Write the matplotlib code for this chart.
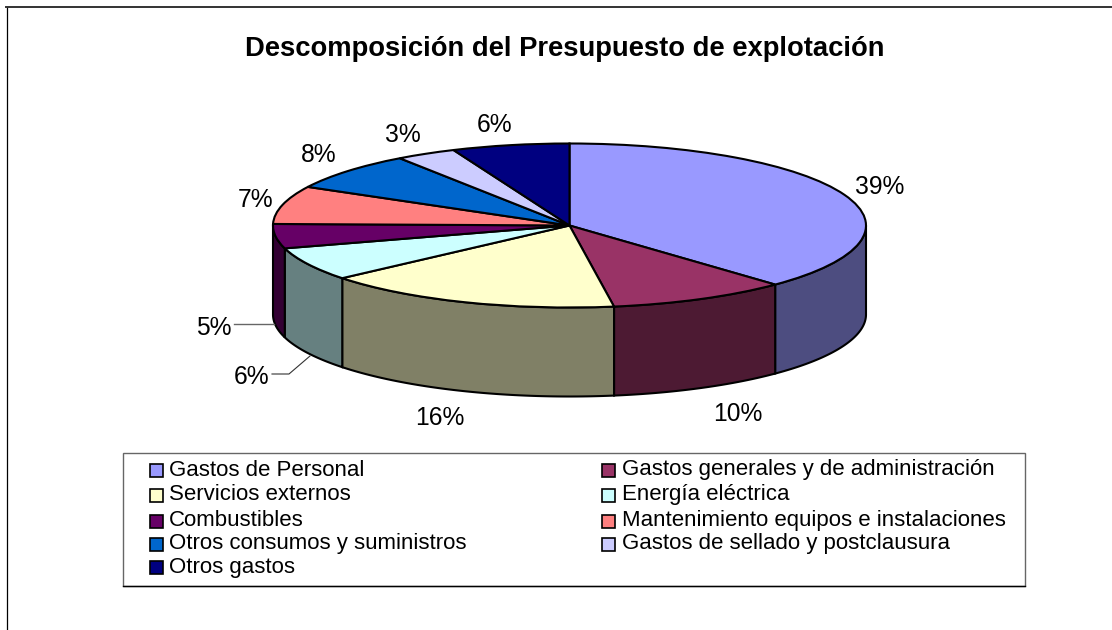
#!/usr/bin/env python
import numpy as np
import matplotlib

matplotlib.use('Agg')
import matplotlib.pyplot as plt
from matplotlib.colors import to_rgb
from matplotlib.patches import Rectangle

plt.rcParams['font.family'] = ['Liberation Sans', 'DejaVu Sans']

# data
title = 'Descomposición del Presupuesto de explotación'
categories = ['Gastos de Personal', 'Gastos generales y de administración',
              'Servicios externos', 'Energía eléctrica', 'Combustibles',
              'Mantenimiento equipos e instalaciones',
              'Otros consumos y suministros', 'Gastos de sellado y postclausura',
              'Otros gastos']
# slice sizes as measured on the drawn ellipse, labels as printed
values = [37.8, 9.8, 16.3, 6.6, 4.8, 7.5, 7.5, 3.3, 6.4]
pct_labels = ['39%', '10%', '16%', '6%', '5%', '7%', '8%', '3%', '6%']
colors = ['#9999FF', '#993366', '#FFFFCC', '#CCFFFF', '#660066',
          '#FF8080', '#0066CC', '#CCCCFF', '#000080']

# layout in pixels
W, H = 1112, 630
cx, cy, rx, ry, depth = 569.5, 225.5, 296.5, 82, 89
label_pos = [(880, 194), (738, 421), (440, 425), (252, 384), (214, 335),
             (255.5, 207), (319, 161.5), (403, 142), (495, 132)]
row_base = [475.5, 500, 526, 549, 572.5]
col_x = [149.5, 602]

fig = plt.figure(figsize=(W / 100, H / 100), dpi=100, facecolor='white')

# pie axes: data units are the unit circle, squashed to the ellipse
ax = fig.add_axes([0, 0, 1, 1], zorder=1)
ax.pie(values, colors=colors, startangle=90, counterclock=False, radius=1,
       wedgeprops={'edgecolor': 'black', 'linewidth': 1.5})
ax.set_aspect('auto')
ax.set_xlim((0 - cx) / rx, (W - cx) / rx)
ax.set_ylim((cy - H) / ry, cy / ry)
ax.axis('off')

# side walls, only the front half of the cylinder shows
drop = depth / ry
edges = np.concatenate([[0], np.cumsum(values)]) / np.sum(values) * 360
for i in range(len(values)):
  a0, a1 = max(edges[i], 90), min(edges[i + 1], 270)
  if a0 >= a1:
    continue
  t = np.radians(np.linspace(a0, a1, 80))
  x = np.sin(t)
  y = np.cos(t)
  px = np.concatenate([x, x[::-1]])
  py = np.concatenate([y, y[::-1] - drop])
  shade = tuple(c * 0.5 for c in to_rgb(colors[i]))
  ax.fill(px, py, facecolor=shade, edgecolor='black', linewidth=1.5, zorder=0.5)

# overlay in pixel coordinates
ov = fig.add_axes([0, 0, 1, 1], zorder=2)
ov.set_xlim(0, W)
ov.set_ylim(H, 0)
ov.axis('off')

# outer frame
ov.plot([6.5, 6.5], [H, 6.5], color='black', lw=0.9)
ov.plot([6, W], [6.7, 6.7], color='#333333', lw=1.4)

ov.text(564.5, 56, title, fontsize=19.7, fontweight='bold', ha='center', va='baseline')

for i, (lx, ly) in enumerate(label_pos):
  ov.text(lx, ly, pct_labels[i], fontsize=17.7, color='black',
          ha='center', va='baseline')

# leader lines
ov.plot([234, 274], [324, 324], color='#666666', lw=1)
ov.plot([272, 289, 310], [374, 374, 356], color='#333333', lw=0.8)

# legend
ov.add_patch(Rectangle((122.5, 452.5), 902.5, 133.5, facecolor='white',
                       edgecolor='#666666', lw=1))
ov.plot([122.5, 1025], [586, 586], color='black', lw=1)
for i, name in enumerate(categories):
  lx = col_x[i % 2]
  base = row_base[i // 2]
  ov.add_patch(Rectangle((lx, base - 11.5), 13, 13, facecolor=colors[i],
                         edgecolor='black', lw=1.2))
  ov.text(lx + 19.5, base, name, fontsize=16.05, color='black', ha='left', va='baseline')

plt.savefig('out.png', dpi=100)
plt.close()
